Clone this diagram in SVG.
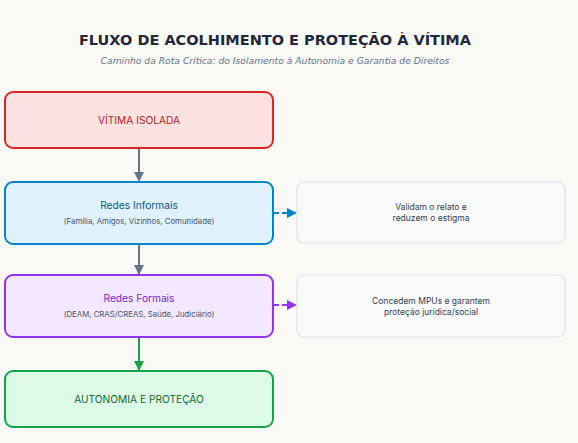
<svg xmlns="http://www.w3.org/2000/svg" width="578" height="443" viewBox="0 0 578 443">
<style>
.title{font-family:"DejaVu Sans",sans-serif;font-weight:bold;font-size:14.5px;fill:#1e293b;text-anchor:middle}
.sub{font-family:"DejaVu Sans",sans-serif;font-style:italic;font-size:9.2px;fill:#64748b;text-anchor:middle}
.lbl{font-family:Inter,"Noto Sans",sans-serif;font-size:10.2px;text-anchor:middle}
.small{font-family:Inter,"Noto Sans",sans-serif;font-size:7.8px;fill:#475569;text-anchor:middle}
.note{font-family:Inter,"Noto Sans",sans-serif;font-size:8.5px;fill:#334155;text-anchor:middle}
.box{stroke-width:2}
.nbox{fill:#f8fafc;stroke:#dbe3ec;stroke-width:1.2}
</style>
<defs>
<marker id="ag" viewBox="0 0 10 10" refX="9" refY="5" markerWidth="5" markerHeight="5" orient="auto"><path d="M0,0 L10,5 L0,10 z" fill="#64748b"/></marker>
<marker id="ab" viewBox="0 0 10 10" refX="9" refY="5" markerWidth="5" markerHeight="5" orient="auto"><path d="M0,0 L10,5 L0,10 z" fill="#0284c7"/></marker>
<marker id="ap" viewBox="0 0 10 10" refX="9" refY="5" markerWidth="5" markerHeight="5" orient="auto"><path d="M0,0 L10,5 L0,10 z" fill="#9333ea"/></marker>
<marker id="agr" viewBox="0 0 10 10" refX="9" refY="5" markerWidth="5" markerHeight="5" orient="auto"><path d="M0,0 L10,5 L0,10 z" fill="#16a34a"/></marker>
</defs>
<rect width="578" height="443" fill="#faf9f6"/>
<text class="title" x="275" y="45">FLUXO DE ACOLHIMENTO E PROTEÇÃO À VÍTIMA</text>
<text class="sub" x="275" y="64">Caminho da Rota Crítica: do Isolamento à Autonomia e Garantia de Direitos</text>
<g id="connectors" fill="none">
<line x1="139" y1="148" x2="139" y2="181" stroke="#64748b" stroke-width="2" marker-end="url(#ag)"/>
<line x1="139" y1="244" x2="139" y2="274" stroke="#64748b" stroke-width="2" marker-end="url(#ag)"/>
<line x1="139" y1="337" x2="139" y2="370" stroke="#16a34a" stroke-width="2" marker-end="url(#agr)"/>
<line x1="274" y1="213" x2="296" y2="213" stroke="#0284c7" stroke-width="2" stroke-dasharray="5,3" marker-end="url(#ab)"/>
<line x1="274" y1="305" x2="296" y2="305" stroke="#9333ea" stroke-width="2" stroke-dasharray="5,3" marker-end="url(#ap)"/>
</g>
<g id="vitima">
<rect class="box" x="5" y="92" width="268" height="56" rx="8" fill="#fee2e2" stroke="#dc2626"/>
<text class="lbl" x="139" y="124" fill="#b91c1c">VÍTIMA ISOLADA</text>
</g>
<g id="informais">
<rect class="box" x="5" y="182" width="268" height="62" rx="8" fill="#e0f2fe" stroke="#0284c7"/>
<text class="lbl" x="139" y="209" fill="#075985">Redes Informais</text>
<text class="small" x="139" y="224">(Família, Amigos, Vizinhos, Comunidade)</text>
</g>
<g id="nota-informais">
<rect class="nbox" x="297" y="182" width="268" height="61" rx="7"/>
<text class="note" x="431" y="210">Validam o relato e</text>
<text class="note" x="431" y="221">reduzem o estigma</text>
</g>
<g id="formais">
<rect class="box" x="5" y="275" width="268" height="62" rx="8" fill="#f3e8ff" stroke="#9333ea"/>
<text class="lbl" x="139" y="302" fill="#7e22ce">Redes Formais</text>
<text class="small" x="139" y="317">(DEAM, CRAS/CREAS, Saúde, Judiciário)</text>
</g>
<g id="nota-formais">
<rect class="nbox" x="297" y="275" width="268" height="62" rx="7"/>
<text class="note" x="431" y="304">Concedem MPUs e garantem</text>
<text class="note" x="431" y="315">proteção jurídica/social</text>
</g>
<g id="autonomia">
<rect class="box" x="5" y="371" width="268" height="56" rx="8" fill="#dcfce7" stroke="#16a34a"/>
<text class="lbl" x="139" y="403" fill="#166534">AUTONOMIA E PROTEÇÃO</text>
</g>
</svg>
